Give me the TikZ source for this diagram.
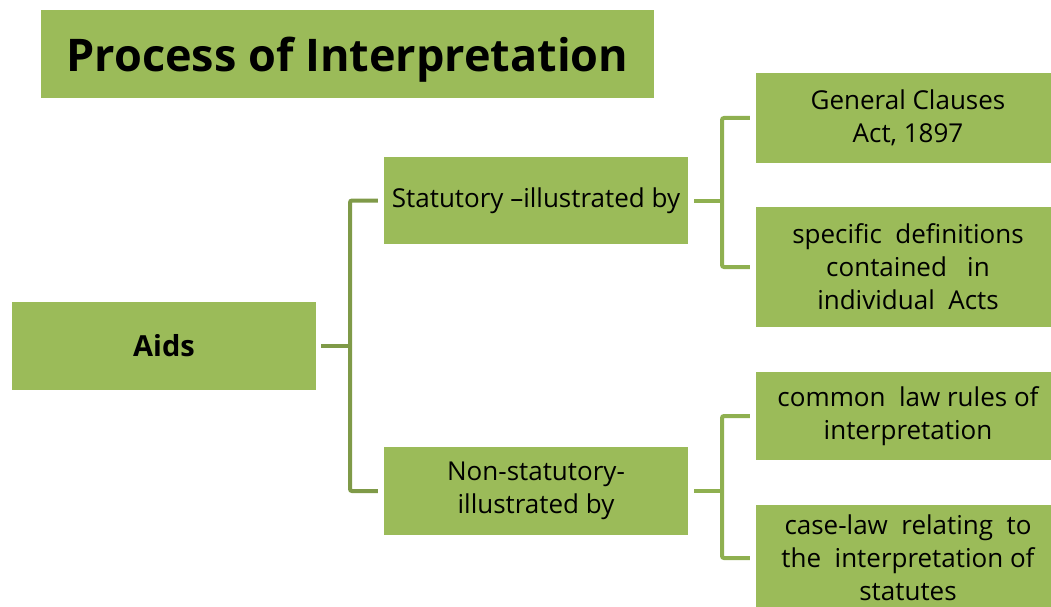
\documentclass[tikz,border=0pt]{standalone}
\usepackage{fontspec}
\setmainfont{Open Sans}
\definecolor{boxgreen}{HTML}{9BBB59}
\definecolor{darkline}{HTML}{7F9A48}
\definecolor{lightline}{HTML}{8FB050}

\begin{document}
\begin{tikzpicture}[x=1pt, y=-1pt,
        every node/.style={fill=boxgreen, minimum width=304pt, inner sep=0pt, align=center,
            font=\fontsize{26}{33}\selectfont},
        bracket/.style={line width=4pt, rounded corners=2pt}
    ]
        \useasboundingbox (0,0) rectangle (1051,607);

        % Tiêu đề
        \node [minimum width=613pt, minimum height=88pt, text depth=0pt,
            font=\fontsize{45}{50}\selectfont\bfseries]
            (title) at (347.5,54) {Process of Interpretation};

        % Các hộp
        \node [minimum height=88pt, font=\fontsize{29}{33}\selectfont\bfseries] (aids) at (164,346) {Aids};
        \node [minimum height=87pt] (stat) at (536,200.5) {Statutory –illustrated by};
        \node [minimum height=88pt] (nonstat) at (536,491) {Non-statutory-\\illustrated by};
        \node [minimum height=90pt] (gca) at (908,118) {General Clauses\\Act, 1897};
        \node [minimum height=120pt] (defs) at (908,267) {specific\ \ definitions\\contained\ \ \ in\\individual\ \ Acts};
        \node [minimum height=88pt] (common) at (908,416) {common\ \ law rules of\\interpretation};
        \node [minimum height=106pt] (caselaw) at (908,558) {case-law\ \ relating\ \ to\\the\ \ interpretation of\\statutes};

        % Các nhánh
        \coordinate (jAids) at (350,346);
        \coordinate (jStat) at (722,200.5);
        \coordinate (jNon) at (722,491);

        \draw[bracket, darkline, shorten <=5pt] (aids.east) -- (jAids);
        \draw[bracket, darkline, shorten <=6pt, shorten >=6pt] (stat.west) -| (jAids) |- (nonstat.west);
        \draw[bracket, lightline, shorten <=6pt] (stat.east) -- (jStat);
        \draw[bracket, lightline, shorten <=6pt, shorten >=6pt] (gca.west) -| (jStat) |- (defs.west);
        \draw[bracket, lightline, shorten <=6pt] (nonstat.east) -- (jNon);
        \draw[bracket, lightline, shorten <=6pt, shorten >=6pt] (common.west) -| (jNon) |- (caselaw.west);
    \end{tikzpicture}
\end{document}
